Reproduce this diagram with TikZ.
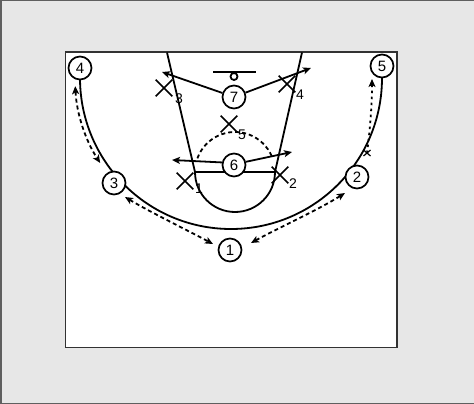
\documentclass[tikz,border=0pt]{standalone}
\usepackage{fontspec}
\setmainfont{Liberation Sans}
\usetikzlibrary{arrows.meta,shapes.misc,calc}
\definecolor{bgc}{RGB}{231,231,231}
\definecolor{framec}{RGB}{95,95,95}
\definecolor{boxc}{RGB}{50,50,50}
\begin{document}
\begin{tikzpicture}[x=1pt,y=-1pt,line width=1.8pt,
  player/.style={circle,draw,fill=white,minimum size=23pt,inner sep=0pt,line width=1.7pt,font=\fontsize{15}{15}\selectfont},
  defx/.style={cross out,draw,minimum size=15pt,inner sep=0pt,line width=1.6pt},
  deflab/.style={font=\fontsize{14}{14}\selectfont,inner sep=0pt},
  arr/.style={-{Stealth[length=8pt,width=7pt,inset=2pt]}},
  dbl/.style={{Stealth[length=8pt,width=7pt,inset=2pt]}-{Stealth[length=8pt,width=7pt,inset=2pt]}},
  dsh/.style={dash pattern=on 4pt off 3pt},
  dot/.style={dash pattern=on 2.5pt off 3.5pt}]
\path[use as bounding box] (0,0) rectangle (474,404);
\fill[bgc] (0,0) rectangle (474,404);
\draw[framec,line width=1.5pt] (474,0.75) -- (0.75,0.75) -- (0.75,403.25) -- (474,403.25);
\draw[fill=white,draw=boxc,line width=1.6pt] (65.5,52) rectangle (397,347.5);

% court
\coordinate (C) at (231,78);
\coordinate (F) at (235,172);
\draw (80,60) -- (80,78) arc[start angle=180,end angle=0,radius=151] -- (382,60);
\draw (167,52.5) -- (195,172) -- (275,172) -- (302,52.5);
\draw (195,172) arc[start angle=180,end angle=0,radius=40];
\draw[dsh] ($(F)+(200:40)$) arc[start angle=200,end angle=338,radius=40];
% basket
\draw (213,72) -- (256,72);
\draw (234,76.5) circle[radius=3.5];

% players
\node[player] (n1) at (230,250) {1};
\node[player] (n2) at (357,177) {2};
\node[player] (n3) at (114,183) {3};
\node[player] (n4) at (80,68) {4};
\node[player] (n5) at (382,66) {5};
\node[player] (n6) at (234,165) {6};
\node[player] (n7) at (234,97) {7};

% defenders
\node[defx] (x1) at (185,181) {};
\node[defx] (x2) at (280,175) {};
\node[defx] (x3) at (164,88) {};
\node[defx] (x4) at (287,84) {};
\node[defx] (x5) at (229,124) {};
\node[deflab] (l1) at (199,189) {1};
\node[deflab] (l2) at (293,184) {2};
\node[deflab] (l3) at (179,99) {3};
\node[deflab] (l4) at (300,95) {4};
\node[deflab] (l5) at (242,135) {5};

% passes / moves
\coordinate (a7l) at (162,72);
\coordinate (a7r) at (311,68);
\coordinate (a6l) at (172,160);
\coordinate (a6r) at (292,152);
\draw[arr] (n7) -- (a7l);
\draw[arr] (n7) -- (a7r);
\draw[arr] (n6.168) -- (a6l);
\draw[arr] (n6.15) -- (a6r);

\coordinate (d4) at ($(C)+(177:156)$);
\draw[dsh,dbl] (d4) arc[start angle=177,end angle=147,radius=156];
\coordinate (d31) at (125,197);
\coordinate (d13) at (213,244);
\draw[dsh,dbl] (d31) .. controls (150,212) and (185,229) .. (d13);
\coordinate (d12) at (251,243);
\coordinate (d21) at (345,193);
\draw[dsh,dbl] (d12) .. controls (278,228) and (318,210) .. (d21);
\coordinate (s25) at (367,153);
\coordinate (e25) at (372,79);
\draw[dot,arr] (s25) .. controls (370,130) and (372,105) .. (e25);
\draw[line width=1.2pt] (363.5,150) -- (370.5,156) (363.5,156) -- (370.5,150);
\end{tikzpicture}
\end{document}
